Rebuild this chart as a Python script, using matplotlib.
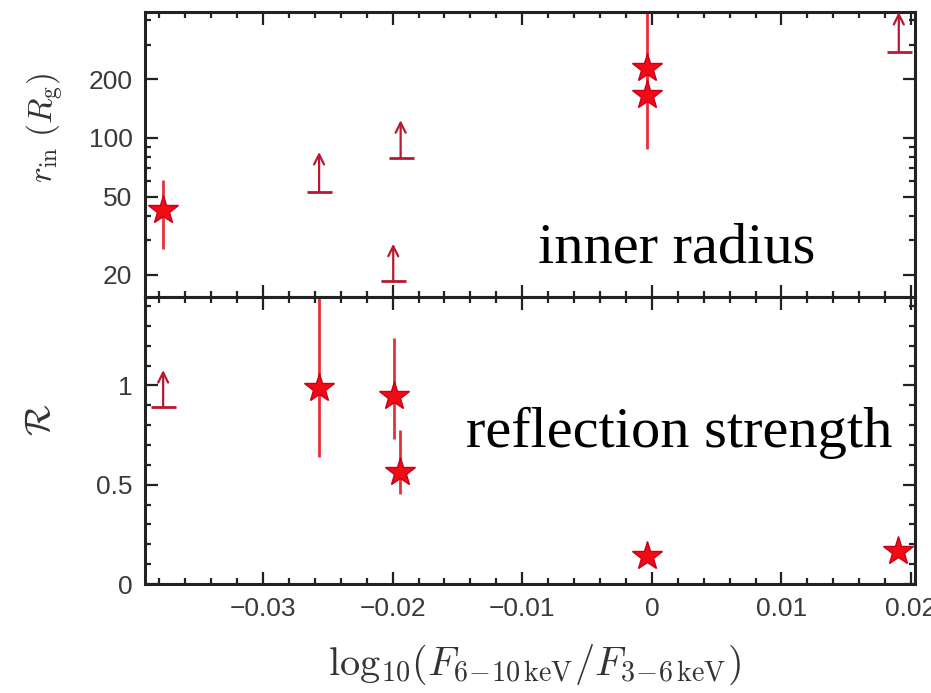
import matplotlib
matplotlib.use("Agg")
import matplotlib.pyplot as plt
from matplotlib.ticker import FixedLocator, NullFormatter, MultipleLocator

plt.rcParams['mathtext.fontset'] = 'cm'
plt.rcParams['font.family'] = ['Liberation Sans', 'DejaVu Sans']

# ---- data: inner radius panel ----
rin_star_x = [-0.0377, -0.0004, -0.0004]
rin_star_y = [43.0, 227.0, 166.0]
rin_star_lo = [27.2, 160.0, 88.0]
rin_star_hi = [60.7, 500.0, 250.0]

rin_lim_x = [-0.02567, -0.01938, -0.01995, 0.01905]
rin_lim_base = [52.8, 79.3, 18.5, 276.0]
rin_lim_tip = [84.8, 123.2, 28.8, 440.0]

# ---- data: reflection strength panel ----
refl_star_x = [-0.02567, -0.01987, -0.01944, -0.0004, 0.0190]
refl_star_y = [0.985, 0.946, 0.564, 0.143, 0.168]
refl_star_lo = [0.639, 0.732, 0.455, 0.143, 0.168]
refl_star_hi = [1.6, 1.237, 0.774, 0.143, 0.168]

refl_lim_x = [-0.0377]
refl_lim_base = [0.889]
refl_lim_tip = [1.077]

xticks = [-0.03, -0.02, -0.01, 0.0, 0.01, 0.02]
xticklabels = ['\u22120.03', '\u22120.02', '\u22120.01', '0', '0.01', '0.02']
rin_ticks = [20, 50, 100, 200]
refl_ticks = [0, 0.5, 1]
refl_ticklabels = ['0', '0.5', '1']

STAR_C = '#f20a14'
STAR_EC = '#c8001a'
ERR_C = '#e8303a'
ARR_C = '#b81830'
TICK_C = '#3a3a3a'

fig = plt.figure(figsize=(9.31, 6.93), dpi=100)
W, H = 931, 693
left, right = 145 / W, 915 / W
ax1 = fig.add_axes([left, 1 - 297 / H, right - left, 285 / H])
ax2 = fig.add_axes([left, 1 - 584 / H, right - left, 287 / H], sharex=ax1)

for ax in (ax1, ax2):
    for sp in ax.spines.values():
        sp.set_linewidth(2.2)
        sp.set_color('#222222')
    ax.tick_params(which='both', direction='in', top=True, right=True,
                   width=1.6, color='#222222', labelsize=19, labelcolor=TICK_C)
    ax.tick_params(which='major', length=9, pad=9)
    ax.tick_params(which='minor', length=4.5)

# top panel
ax1.set_yscale('log')
ax1.set_ylim(15.4, 440)
ax1.set_xlim(-0.0391, 0.0203)
ax1.yaxis.set_major_locator(FixedLocator(rin_ticks))
ax1.set_yticklabels([str(t) for t in rin_ticks])
ax1.yaxis.set_minor_locator(FixedLocator([30, 40, 60, 70, 80, 90, 300, 400]))
ax1.yaxis.set_minor_formatter(NullFormatter())
ax1.tick_params(axis='x', labelbottom=False)

for x, y, lo, hi in zip(rin_star_x, rin_star_y, rin_star_lo, rin_star_hi):
    ax1.errorbar([x], [y], yerr=[[y - lo], [hi - y]], fmt='none',
                 ecolor=ERR_C, elinewidth=2.0, capsize=0, zorder=2)
ax1.plot(rin_star_x, rin_star_y, linestyle='none', marker='*', ms=22,
         color=STAR_C, mec=STAR_EC, mew=1.0, zorder=3)

for x, b, t in zip(rin_lim_x, rin_lim_base, rin_lim_tip):
    ax1.annotate('', xy=(x, t), xytext=(x, b),
                 arrowprops=dict(arrowstyle='->', color=ARR_C, lw=1.6,
                                 mutation_scale=18, shrinkA=0, shrinkB=0))
    ax1.plot([x], [b], marker='_', ms=18, mew=2.0, color=ARR_C)

ax1.text(0.00195, 23.0, 'inner radius', family='Liberation Serif',
         fontsize=42, ha='center', va='baseline', color='black')

# bottom panel
ax2.set_ylim(0, 1.445)
ax2.yaxis.set_major_locator(FixedLocator(refl_ticks))
ax2.set_yticklabels(refl_ticklabels)
ax2.yaxis.set_minor_locator(MultipleLocator(0.1))
ax2.xaxis.set_major_locator(FixedLocator(xticks))
ax2.set_xticklabels(xticklabels)
ax2.xaxis.set_minor_locator(MultipleLocator(0.002))
ax1.xaxis.set_minor_locator(MultipleLocator(0.002))

for x, y, lo, hi in zip(refl_star_x, refl_star_y, refl_star_lo, refl_star_hi):
    if hi > lo:
        ax2.errorbar([x], [y], yerr=[[y - lo], [hi - y]], fmt='none',
                     ecolor=ERR_C, elinewidth=2.0, capsize=0, zorder=2)
ax2.plot(refl_star_x, refl_star_y, linestyle='none', marker='*', ms=22,
         color=STAR_C, mec=STAR_EC, mew=1.0, zorder=3)

for x, b, t in zip(refl_lim_x, refl_lim_base, refl_lim_tip):
    ax2.annotate('', xy=(x, t), xytext=(x, b),
                 arrowprops=dict(arrowstyle='->', color=ARR_C, lw=1.6,
                                 mutation_scale=18, shrinkA=0, shrinkB=0))
    ax2.plot([x], [b], marker='_', ms=18, mew=2.0, color=ARR_C)

ax2.text(0.0021, 0.69, 'reflection strength', family='Liberation Serif',
         fontsize=42, ha='center', va='baseline', color='black')

# axis labels
fig.text(45 / W, 1 - 128 / H, r'$r_{\rm in}\ (R_{\rm g})$', rotation=90,
         ha='center', va='center', fontsize=24, color='#333333')
fig.text(40 / W, 1 - 420 / H, r'$\mathcal{R}$', rotation=90,
         ha='center', va='center', fontsize=26, color='#333333')
fig.text(535 / W, 1 - 665 / H,
         r'${\rm log}_{10}(F_{6\!-\!10\,{\rm keV}}/F_{3\!-\!6\,{\rm keV}})$',
         ha='center', va='center', fontsize=29, color='#333333')

fig.savefig('out.png', dpi=100)
